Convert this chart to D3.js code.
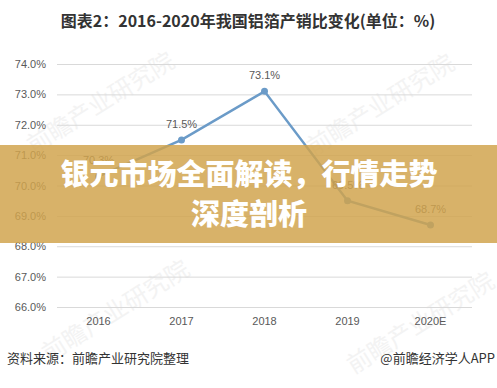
<!DOCTYPE html>
<html>
<head>
<meta charset="utf-8">
<script src="https://cdn.jsdelivr.net/npm/d3@7"></script>
<style>
  body { margin: 0; background: #fff; }
  svg { display: block; }
</style>
</head>
<body>
<div id="chart"></div>
<script>
// Aluminium foil production/sales ratio
const years = ['2016', '2017', '2018', '2019', '2020E'];
const ratios = [70.3, 71.5, 73.1, 69.5, 68.7];
const yTicks = [66, 67, 68, 69, 70, 71, 72, 73, 74];

const width = 497, height = 388;
const margin = { top: 64, right: 25, bottom: 81, left: 57 };

const svg = d3.select('#chart')
  .append('svg')
  .attr('width', width)
  .attr('height', height);

svg.append('rect')
  .attr('width', width)
  .attr('height', height)
  .attr('fill', '#fff');

// faint watermarks
const marks = [[105, 110], [385, 112], [120, 318], [425, 330]];
marks.forEach(([x, y]) => {
  const g = svg.append('g')
    .attr('transform', `translate(${x},${y}) rotate(-32)`)
    .attr('fill', '#f3f3f3');
  g.append('text')
    .attr('text-anchor', 'middle')
    .style('font-family', '"Noto Sans CJK SC", sans-serif')
    .style('font-size', '24px')
    .text('前瞻产业研究院');
});

// Title
svg.append('text')
  .attr('x', 248)
  .attr('y', 27)
  .attr('text-anchor', 'middle')
  .style('font-family', '"Noto Sans CJK SC", sans-serif')
  .style('font-size', '16px')
  .style('font-weight', 'bold')
  .style('fill', '#333')
  .text('图表2：2016-2020年我国铝箔产销比变化(单位：%)');

const innerWidth = width - margin.left - margin.right;
const innerHeight = height - margin.top - margin.bottom;

const chart = svg.append('g')
  .attr('transform', `translate(${margin.left},${margin.top})`);

const x = d3.scaleBand()
  .domain(years)
  .range([0, innerWidth]);

const y = d3.scaleLinear()
  .domain([66, 74])
  .range([innerHeight, 0]);

// gridlines
chart.append('g')
  .call(d3.axisLeft(y).tickValues(yTicks).tickSize(-innerWidth).tickFormat(''))
  .call(g => g.select('.domain').remove())
  .call(g => g.selectAll('line').attr('stroke', '#d9d9d9').attr('stroke-width', 1));

// y labels
chart.append('g')
  .call(d3.axisLeft(y).tickValues(yTicks).tickSize(0).tickPadding(11)
    .tickFormat(d => d.toFixed(1) + '%'))
  .call(g => g.select('.domain').remove())
  .call(g => g.selectAll('text')
    .style('font-family', '"Liberation Sans", sans-serif')
    .style('font-size', '11px')
    .style('fill', '#595959'));

// x labels
chart.append('g')
  .attr('transform', `translate(0,${innerHeight})`)
  .call(d3.axisBottom(x).tickSize(0).tickPadding(10))
  .call(g => g.select('.domain').remove())
  .call(g => g.selectAll('text')
    .style('font-family', '"Liberation Sans", sans-serif')
    .style('font-size', '11px')
    .style('fill', '#595959'));

const points = years.map((yr, i) => ({ year: yr, value: ratios[i] }));
const cx = d => x(d.year) + x.bandwidth() / 2;

chart.append('path')
  .datum(points)
  .attr('fill', 'none')
  .attr('stroke', '#6b9bc8')
  .attr('stroke-width', 2.5)
  .attr('d', d3.line().x(cx).y(d => y(d.value)));

chart.selectAll('.dot')
  .data(points)
  .enter().append('circle')
  .attr('cx', cx)
  .attr('cy', d => y(d.value))
  .attr('r', 3.5)
  .attr('fill', '#6b9bc8');

chart.selectAll('.lbl')
  .data(points)
  .enter().append('text')
  .attr('x', cx)
  .attr('y', d => y(d.value) - 12)
  .attr('text-anchor', 'middle')
  .style('font-family', '"Liberation Sans", sans-serif')
  .style('font-size', '11px')
  .style('fill', '#595959')
  .text(d => d.value.toFixed(1) + '%');

// overlay banner
svg.append('rect')
  .attr('x', 0)
  .attr('y', 145)
  .attr('width', width)
  .attr('height', 98)
  .attr('fill', 'rgb(208,163,76)')
  .attr('fill-opacity', 0.84);

const banner = ['银元市场全面解读，行情走势', '深度剖析'];
svg.selectAll('.banner')
  .data(banner)
  .enter().append('text')
  .attr('x', 249)
  .attr('y', (d, i) => 185 + i * 40)
  .attr('text-anchor', 'middle')
  .style('font-family', '"Noto Sans CJK SC", sans-serif')
  .style('font-size', '29px')
  .style('font-weight', '900')
  .style('fill', '#fff')
  .text(d => d);

// footer
svg.append('text')
  .attr('x', 7)
  .attr('y', 363)
  .style('font-family', '"Noto Sans CJK SC", sans-serif')
  .style('font-size', '13px')
  .style('fill', '#333')
  .text('资料来源：前瞻产业研究院整理');

svg.append('text')
  .attr('x', 495)
  .attr('y', 363)
  .attr('text-anchor', 'end')
  .style('font-family', '"Noto Sans CJK SC", sans-serif')
  .style('font-size', '13px')
  .style('fill', '#333')
  .text('@前瞻经济学人APP');
</script>
</body>
</html>
